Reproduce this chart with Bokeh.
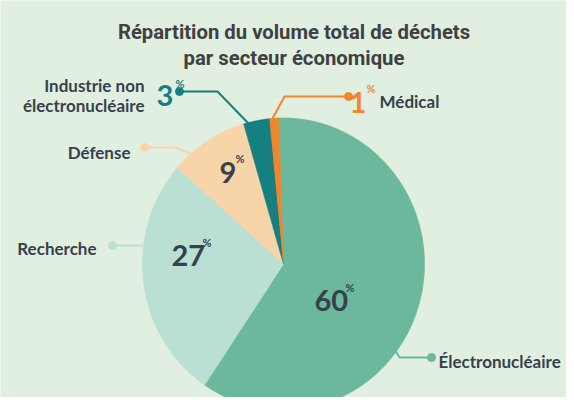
import numpy as np
from bokeh.plotting import figure
from bokeh.models import Range1d
from bokeh.core.properties import value
from bokeh.embed import file_html
from bokeh.resources import INLINE

# ---- data ----
categories = ["Électronucléaire", "Recherche", "Défense", "Industrie non électronucléaire", "Médical"]
values = [60, 27, 9, 3, 1]
title_lines = ["Répartition du volume total de déchets", "par secteur économique"]

# ---- style ----
colors = ["#6cb89c", "#badfd3", "#f8d4a9", "#167f80", "#f0852a"]
dark = "#37414d"
bg = "#e1efe1"
W, H = 566, 397

def X(xs):
    return xs - 8

def Y(ys):
    return 405 - ys

p = figure(width=W, height=H, output_backend="svg", toolbar_location=None,
           x_range=Range1d(0, W), y_range=Range1d(0, H), min_border=0)
p.axis.visible = False
p.grid.visible = False
p.outline_line_color = None
p.background_fill_color = bg
p.border_fill_color = bg

# ---- pie (slices built from the values) ----
cx, cy, rx, ry = X(291), Y(271.5), 141, 146
start = 92.0
bounds = start - np.concatenate([[0], np.cumsum(values)]) / sum(values) * 360.0
xs_list, ys_list = [], []
for i in range(len(values)):
    t = np.radians(np.linspace(bounds[i], bounds[i + 1], 120))
    xs_list.append(np.concatenate([[cx], cx + rx * np.cos(t), [cx]]))
    ys_list.append(np.concatenate([[cy], cy + ry * np.sin(t), [cy]]))
p.patches(xs_list, ys_list, fill_color=colors, line_color=colors, line_width=0.6)

# ---- leader lines ----
leaders = [
    [(439, 365), (407, 365), (401, 355)],   # Électronucléaire
    [(120, 253), (150, 253)],               # Recherche
    [(152, 155), (183, 155), (199, 162)],   # Défense
    [(187, 99), (225, 99), (256, 131)],     # Industrie
    [(356, 104), (292, 104), (280, 126)],   # Médical
]
for pts, c in zip(leaders, colors):
    lx = [X(a) for a, b in pts]
    ly = [Y(b) for a, b in pts]
    p.line(lx, ly, line_color=c, line_width=2)
    p.scatter([lx[0]], [ly[0]], size=8, marker="circle", fill_color=c, line_color=c)

LF = "Lato"

def txt(x, y, s, size, color=dark, font=LF, align="left", style="bold"):
    p.text(x=[X(x)], y=[Y(y)], text=[s], text_font=value(font),
           text_font_size=value(f"{size}px"), text_font_style=style,
           text_color=color, text_align=align, text_baseline="alphabetic")

# ---- title ----
txt(301.5, 39, title_lines[0], 20.3, color="#404040", font="Roboto", align="center")
txt(301.5, 65, title_lines[1], 20.3, color="#404040", font="Roboto", align="center")

# ---- category labels ----
txt(446, 369, categories[0], 17)
txt(104, 256, categories[1], 17, align="right")
txt(138, 160, categories[2], 17, align="right")
txt(152, 93, "Industrie non", 17, align="right")
txt(152, 113, "électronucléaire", 17, align="right")
txt(387, 109, categories[4], 17)

# ---- percentage labels (from values) ----
num_pos = [(322, 308), (179, 263), (227, 180), (164, 103), (357, 110)]
pct_pos = [(353, 295), (210, 250), (243, 166), (183, 91), (374, 96)]
num_col = [dark, dark, dark, colors[3], colors[4]]
for v, (nx, ny), (px_, py_), c in zip(values, num_pos, pct_pos, num_col):
    txt(nx, ny, f"{v}", 29, color=c)
    txt(px_, py_, "%", 11, color=c)

open("out.html", "w").write(file_html(p, INLINE))
